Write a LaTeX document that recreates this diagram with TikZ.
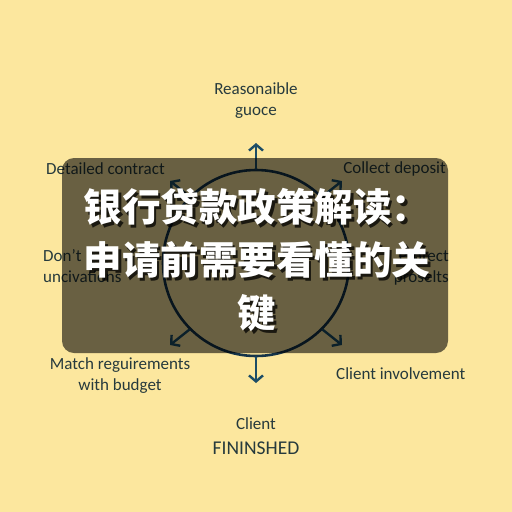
\documentclass[tikz,border=0pt]{standalone}
\usepackage{fontspec}
\setmainfont{Carlito}
\newfontfamily\cjk{Noto Sans CJK SC}
\usetikzlibrary{arrows.meta}
\definecolor{bgyellow}{HTML}{FCE79E}
\definecolor{ink}{HTML}{263A3D}
\definecolor{ringcol}{HTML}{153449}
\definecolor{arrowcol}{HTML}{1C4D66}
\begin{document}
\begin{tikzpicture}[x=1pt,y=-1pt,
  lbl/.style={text=ink, font=\fontsize{17}{21}\selectfont, inner sep=0pt, align=center},
  outarrow/.style={draw=arrowcol, line width=2.4pt, line cap=round, line join=round,
    -{Straight Barb[length=6pt,width=14pt,line width=2.4pt]}},
  titlefont/.style={font=\cjk\bfseries\fontsize{38.5}{53}\selectfont, align=center, inner sep=0pt}
]
\fill[bgyellow] (0,0) rectangle (512,512);
\useasboundingbox (0,0) rectangle (512,512);

\node[circle, draw=ringcol, line width=2.6pt, minimum size=186pt, inner sep=0pt] (ring) at (256,263) {};
\coordinate (tN) at (256,143);
\coordinate (tS) at (256,383);
\coordinate (tSW) at (170,345);
\coordinate (tSE) at (342,345);
\coordinate (tNW) at (170,181);
\coordinate (tNE) at (342,181);
\draw[outarrow] (ring.north) -- (tN);
\draw[outarrow] (ring.south) -- (tS);
\draw[outarrow] (ring.225) -- (tSW);
\draw[outarrow] (ring.315) -- (tSE);
\draw[outarrow] (ring.135) -- (tNW);
\draw[outarrow] (ring.45) -- (tNE);

\node[lbl] (reason) at (256,101) {Reasonaible\\guoce};
\node[lbl, anchor=west] (detail) at (46,169) {Detailed contract};
\node[lbl, anchor=east] (collect) at (446,169) {Collect deposit};
\node[lbl, anchor=west, align=left] (dont) at (43,266) {Don't\\uncivations};
\node[lbl, anchor=east, align=right] (protect) at (449,268) {Protect\\proselts};
\node[lbl] (match) at (120,376) {Match reguirements\\with budget};
\node[lbl, anchor=west] (involve) at (336,374) {Client involvement};
\node[lbl] (client) at (256,424) {Client};
\node[lbl, font=\fontsize{19.5}{21}\selectfont] (fin) at (256,448) {FININSHED};

\node[fill=black, fill opacity=0.58, rounded corners=12pt, minimum width=386pt,
      minimum height=195pt, inner sep=0pt] (overlay) at (255,255.5) {};

\node[titlefont, text=black, text opacity=0.75] (titleshadow) at (259.5,262.5)
  {银行贷款政策解读：\\申请前需要看懂的关\\键};
\node[titlefont, text=white] (title) at (257,260)
  {银行贷款政策解读：\\申请前需要看懂的关\\键};
\end{tikzpicture}
\end{document}
